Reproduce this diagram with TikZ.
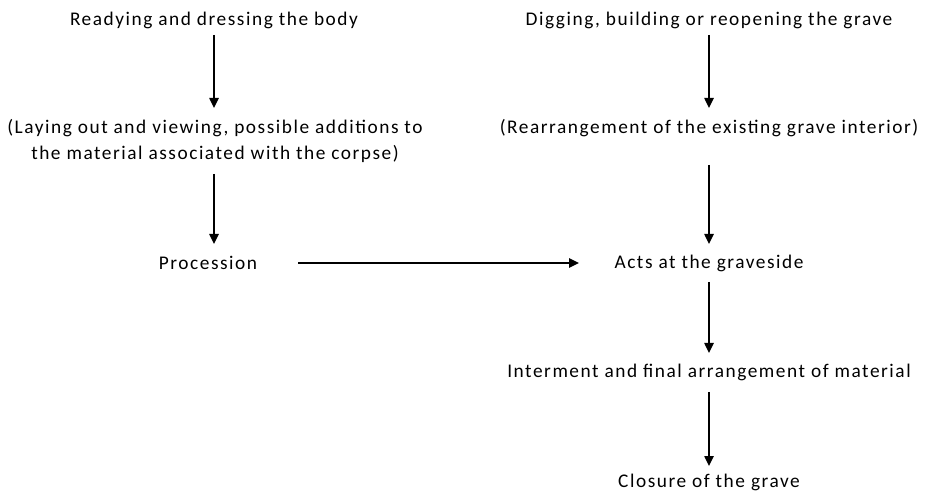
\documentclass[tikz,border=0pt]{standalone}
\usepackage{fontspec}
\setmainfont{Carlito}[LetterSpace=8]
\usetikzlibrary{arrows.meta}
\begin{document}
\begin{tikzpicture}[x=0.75pt, y=-0.75pt, >={Triangle[length=7.5pt, width=7pt]}, line width=1.1pt,
  every node/.style={font=\fontsize{14.5}{19}\selectfont, align=center, inner sep=0pt}]
\useasboundingbox (0,0) rectangle (928,491);
\node (ready) at (214,20) {Readying and dressing the body};
\node (layout) at (215,141) {(Laying out and viewing, possible additions to\\the material associated with the corpse)};
\node (procession) at (208,263) {Procession};
\node (digging) at (709,20) {Digging, building or reopening the grave};
\node (rearrange) at (709,128) {(Rearrangement of the existing grave interior)};
\node (acts) at (709,263) {Acts at the graveside};
\node (interment) at (709,372) {Interment and final arrangement of material};
\node (closure) at (709,482) {Closure of the grave};
\draw[->] (214,35) -- (214,108);
\draw[->] (214,174) -- (214,244);
\draw[->] (298,263) -- (579,263);
\draw[->] (709,35) -- (709,108);
\draw[->] (709,165) -- (709,244);
\draw[->] (709,282) -- (709,353);
\draw[->] (709,392) -- (709,466);
\end{tikzpicture}
\end{document}
